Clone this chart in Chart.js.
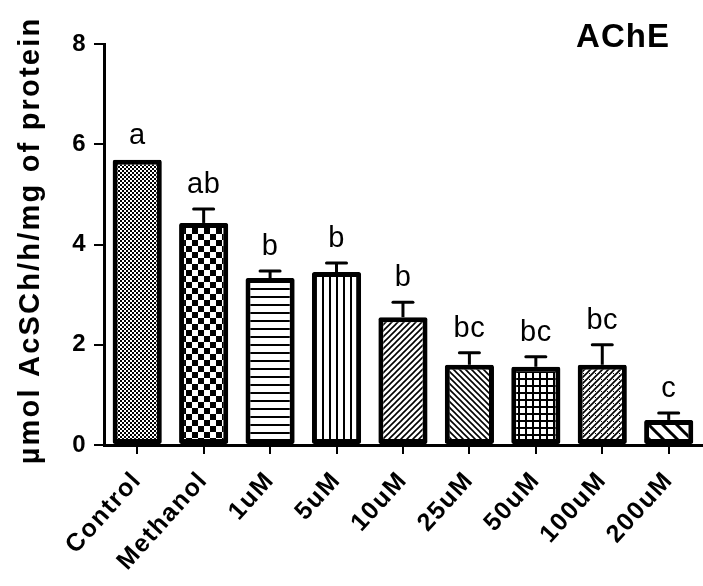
<!DOCTYPE html>
<html>
<head>
<meta charset="utf-8">
<script src="https://cdn.jsdelivr.net/npm/chart.js@4.4.1/dist/chart.umd.min.js"></script>
<style>
  html, body { margin: 0; padding: 0; background: #fff; }
</style>
</head>
<body>
<canvas id="chart" width="703" height="586"></canvas>
<script>
// data
const groups = ['Control', 'Methanol', '1uM', '5uM', '10uM', '25uM', '50uM', '100uM', '200uM'];
const ache = [5.69, 4.43, 3.33, 3.45, 2.55, 1.60, 1.56, 1.60, 0.50];
const acheErr = [0.0, 0.28, 0.14, 0.18, 0.30, 0.24, 0.20, 0.40, 0.14];
const sigLetters = ['a', 'ab', 'b', 'b', 'b', 'bc', 'bc', 'bc', 'c'];
const yTicks = [0, 2, 4, 6, 8];
const yTitle = 'µmol AcSCh/h/mg of protein';
const panelTitle = 'AChE';

const FONT = 'Arial, "Liberation Sans", sans-serif';

// small tile helper for the bar fills
function makePattern(size, draw) {
  const c = document.createElement('canvas');
  c.width = size; c.height = size;
  const g = c.getContext('2d');
  g.fillStyle = '#fff';
  g.fillRect(0, 0, size, size);
  g.fillStyle = '#000';
  g.strokeStyle = '#000';
  draw(g, size);
  return g.createPattern(c, 'repeat');
}

function checker(cell) {
  return makePattern(cell * 2, (g, s) => {
    g.fillRect(0, 0, cell, cell);
    g.fillRect(cell, cell, cell, cell);
  });
}

function diag(size, width, dir) {
  return makePattern(size, (g, s) => {
    g.lineWidth = width;
    g.beginPath();
    if (dir > 0) { // "/"
      g.moveTo(0, s); g.lineTo(s, 0);
      g.moveTo(-s / 2, s / 2); g.lineTo(s / 2, -s / 2);
      g.moveTo(s / 2, s * 1.5); g.lineTo(s * 1.5, s / 2);
    } else { // "\"
      g.moveTo(0, 0); g.lineTo(s, s);
      g.moveTo(-s / 2, s / 2); g.lineTo(s / 2, s * 1.5);
      g.moveTo(s / 2, -s / 2); g.lineTo(s * 1.5, s / 2);
    }
    g.stroke();
  });
}

const fills = [
  checker(2),
  checker(6),
  makePattern(8, (g, s) => { g.fillRect(0, 0, s, 2); }),
  makePattern(7, (g, s) => { g.fillRect(0, 0, 2, s); }),
  diag(6, 1.6, 1),
  diag(6, 1.6, -1),
  makePattern(7, (g, s) => { g.fillRect(0, 0, s, 2); g.fillRect(0, 0, 2, s); }),
  makePattern(6, (g, s) => {
    g.lineWidth = 1.6;
    g.beginPath();
    g.moveTo(0, s); g.lineTo(s, 0);
    g.moveTo(-s / 2, s / 2); g.lineTo(s / 2, -s / 2);
    g.moveTo(s / 2, s * 1.5); g.lineTo(s * 1.5, s / 2);
    g.stroke();
    g.fillRect(1, 1, 1, 1);
  }),
  diag(14, 3, -1)
];

// error bars (upward only), significance letters, axis title, panel title
const extrasPlugin = {
  id: 'extras',
  beforeDraw(chart) {
    // the original labels are set a bit wider than the local Arial
    chart.ctx.letterSpacing = '1.5px';
  },
  beforeDatasetsDraw(chart) {
    chart.ctx.letterSpacing = '0px';
  },
  afterDatasetsDraw(chart) {
    const ctx = chart.ctx;
    const meta = chart.getDatasetMeta(0);
    const y = chart.scales.y;
    ctx.save();
    meta.data.forEach((bar, i) => {
      const x = bar.x;
      const top = y.getPixelForValue(ache[i]);
      const cap = y.getPixelForValue(ache[i] + acheErr[i]);
      if (acheErr[i] > 0) {
        ctx.strokeStyle = '#000';
        ctx.lineWidth = 3;
        ctx.lineCap = 'butt';
        ctx.beginPath();
        ctx.moveTo(x, top);
        ctx.lineTo(x, cap);
        ctx.stroke();
        ctx.lineCap = 'round';
        ctx.beginPath();
        ctx.moveTo(x - 10, cap);
        ctx.lineTo(x + 10, cap);
        ctx.stroke();
      }
      ctx.fillStyle = '#000';
      ctx.font = '29px ' + FONT;
      ctx.letterSpacing = '0.5px';
      ctx.textAlign = 'center';
      ctx.textBaseline = 'alphabetic';
      ctx.fillText(sigLetters[i], x, cap - 16);
    });
    ctx.restore();
  },
  afterDraw(chart) {
    const ctx = chart.ctx;
    const area = chart.chartArea;
    ctx.save();
    ctx.fillStyle = '#000';
    ctx.font = 'bold 33px ' + FONT;
    ctx.letterSpacing = '1px';
    ctx.textAlign = 'right';
    ctx.textBaseline = 'alphabetic';
    ctx.fillText(panelTitle, area.right - 32, area.top + 3);
    ctx.restore();

    ctx.save();
    ctx.fillStyle = '#000';
    ctx.font = 'bold 29px ' + FONT;
    ctx.letterSpacing = '2.2px';
    ctx.textAlign = 'center';
    ctx.textBaseline = 'middle';
    ctx.translate(31, (area.top + area.bottom) / 2 - 4);
    ctx.rotate(-Math.PI / 2);
    ctx.fillText(yTitle, 0, 0);
    ctx.restore();
  }
};

new Chart(document.getElementById('chart'), {
  type: 'bar',
  data: {
    labels: groups,
    datasets: [{
      data: ache,
      backgroundColor: fills,
      borderColor: '#000',
      borderWidth: 5,
      borderSkipped: false,
      borderRadius: 2,
      barPercentage: 0.74,
      categoryPercentage: 1.0
    }]
  },
  options: {
    responsive: false,
    animation: false,
    devicePixelRatio: 1,
    layout: { padding: { top: 44, right: 0, left: 0, bottom: 0 } },
    plugins: {
      legend: { display: false },
      tooltip: { enabled: false }
    },
    scales: {
      x: {
        grid: {
          display: true,
          drawOnChartArea: false,
          offset: false,
          tickLength: 9,
          lineWidth: 2,
          color: '#000'
        },
        border: { display: true, color: '#000', width: 3 },
        ticks: {
          color: '#000',
          font: { family: FONT, size: 25, weight: 'bold' },
          minRotation: 48,
          maxRotation: 48,
          padding: 12
        },
        afterFit(scale) { scale.height = 141; }
      },
      y: {
        min: 0,
        max: 8,
        afterBuildTicks(scale) { scale.ticks = yTicks.map(v => ({ value: v })); },
        grid: {
          display: true,
          drawOnChartArea: false,
          tickLength: 10,
          lineWidth: 2,
          color: '#000'
        },
        border: { display: true, color: '#000', width: 3 },
        ticks: {
          color: '#000',
          font: { family: FONT, size: 24, weight: 'bold' },
          padding: 7
        },
        afterFit(scale) { scale.width = 104; }
      }
    }
  },
  plugins: [extrasPlugin]
});
</script>
</body>
</html>
